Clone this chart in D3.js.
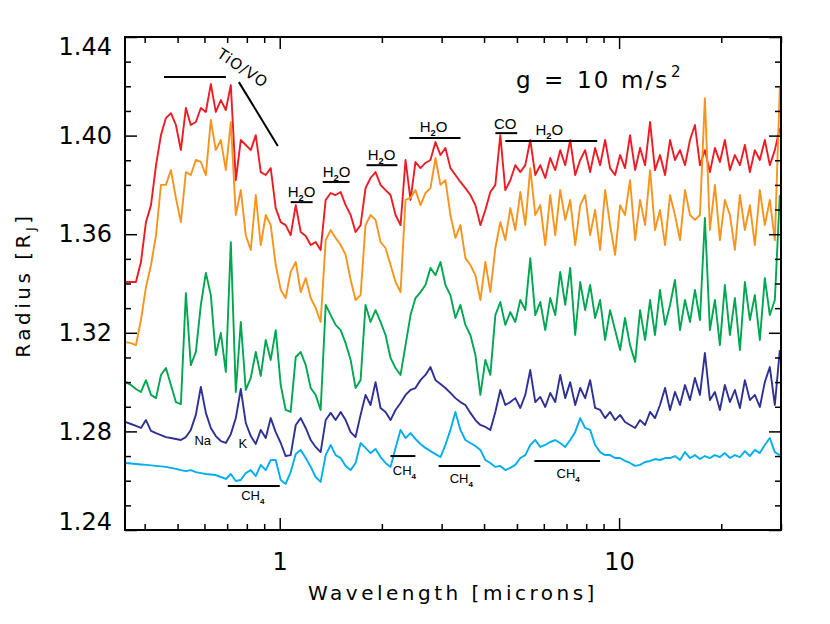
<!DOCTYPE html>
<html>
<head>
<meta charset="utf-8">
<script src="https://cdnjs.cloudflare.com/ajax/libs/d3/7.8.5/d3.min.js"></script>
<style>
  body { margin: 0; background: #fff; }
  svg { display: block; }
  .ax text { font-family: "DejaVu Sans", sans-serif; font-size: 24px; fill: #000; }
  .ax line { stroke: #000; stroke-width: 1.5px; }
  .title { font-family: "DejaVu Sans", sans-serif; font-size: 20px; letter-spacing: 3.5px; fill: #000; }
  .note { font-family: "Liberation Sans", Arial, sans-serif; fill: #000; }
</style>
</head>
<body>
<svg id="chart" width="830" height="624"></svg>
<script>
// wavelength grid (microns), shared by all five spectra
var wavelength = [
  0.352, 0.3645, 0.377, 0.390, 0.4035, 0.4175, 0.432, 0.4467, 0.462, 0.478,
  0.4944, 0.5114, 0.529, 0.547, 0.566, 0.5856, 0.6058, 0.6266, 0.648, 0.6706,
  0.6937, 0.7176, 0.7423, 0.7679, 0.7943, 0.8217, 0.85, 0.8793, 0.9095, 0.9408,
  0.9732, 1.0068, 1.041, 1.077, 1.115, 1.153, 1.193, 1.234, 1.276, 1.320,
  1.366, 1.413, 1.461, 1.512, 1.564, 1.618, 1.673, 1.731, 1.790, 1.852,
  1.916, 1.982, 2.050, 2.121, 2.194, 2.270, 2.348, 2.429, 2.512, 2.599,
  2.688, 2.781, 2.877, 2.976, 3.078, 3.184, 3.294, 3.407, 3.525, 3.646,
  3.772, 3.902, 4.036, 4.175, 4.319, 4.467, 4.621, 4.781, 4.945, 5.116,
  5.292, 5.474, 5.663, 5.858, 6.060, 6.268, 6.484, 6.708, 6.939, 7.178,
  7.425, 7.681, 7.943, 8.217, 8.500, 8.793, 9.096, 9.408, 9.732, 10.07,
  10.41, 10.77, 11.15, 11.53, 11.93, 12.34, 12.76, 13.20, 13.66, 14.13,
  14.61, 15.12, 15.64, 16.18, 16.73, 17.31, 17.90, 18.52, 19.16, 19.82,
  20.50, 21.21, 21.94, 22.70, 23.48, 24.29, 25.12, 25.99, 26.88, 27.81,
  28.77, 29.76
];

// radius (R_J) of each model
var radiusRed = [
  1.3406, 1.3406, 1.3406, 1.3487, 1.3649, 1.3718, 1.3880, 1.4002, 1.4071, 1.4091,
  1.4043, 1.3941, 1.4112, 1.4043, 1.4055, 1.4112, 1.4096, 1.4209, 1.4096, 1.4144,
  1.4104, 1.4205, 1.3819, 1.3982, 1.3962, 1.3941, 1.4002, 1.3852, 1.3840, 1.3868,
  1.3706, 1.3649, 1.3637, 1.3596, 1.3718, 1.3609, 1.3593, 1.3556, 1.3568, 1.3536,
  1.3739, 1.3767, 1.3759, 1.3771, 1.3718, 1.3678, 1.3609, 1.3637, 1.3787, 1.3828,
  1.3852, 1.3800, 1.3779, 1.3759, 1.3678, 1.3637, 1.3901, 1.3739, 1.3893, 1.3868,
  1.3889, 1.3901, 1.3974, 1.3921, 1.3950, 1.3868, 1.3840, 1.3812, 1.3787, 1.3759,
  1.3718, 1.3637, 1.3698, 1.3771, 1.3800, 1.4002, 1.3779, 1.3819, 1.3880, 1.3852,
  1.3880, 1.3982, 1.3840, 1.3880, 1.3828, 1.3909, 1.3860, 1.3941, 1.3880, 1.3982,
  1.3840, 1.3901, 1.3941, 1.3852, 1.3950, 1.3880, 1.3982, 1.3868, 1.3840, 1.3921,
  1.3868, 1.4002, 1.3860, 1.3950, 1.3880, 1.4055, 1.3860, 1.3921, 1.3840, 1.3982,
  1.3901, 1.3941, 1.3880, 1.3982, 1.4043, 1.3880, 1.3941, 1.3852, 1.3950, 1.3893,
  1.3982, 1.3860, 1.3921, 1.3880, 1.3962, 1.3852, 1.3941, 1.3901, 1.3982, 1.3880,
  1.3941, 1.4031
];
var radiusOrange = [
  1.3162, 1.3158, 1.3150, 1.3252, 1.3385, 1.3475, 1.3596, 1.3800, 1.3800, 1.3860,
  1.3747, 1.3649, 1.3852, 1.3840, 1.3901, 1.3893, 1.3840, 1.4063, 1.3941, 1.3982,
  1.3860, 1.4055, 1.3678, 1.3779, 1.3596, 1.3536, 1.3759, 1.3556, 1.3678, 1.3637,
  1.3475, 1.3374, 1.3341, 1.3447, 1.3487, 1.3365, 1.3422, 1.3341, 1.3301, 1.3244,
  1.3576, 1.3617, 1.3585, 1.3556, 1.3516, 1.3414, 1.3333, 1.3353, 1.3637, 1.3678,
  1.3658, 1.3568, 1.3544, 1.3475, 1.3406, 1.3365, 1.3739, 1.3747, 1.3779, 1.3718,
  1.3767, 1.3787, 1.3909, 1.3800, 1.3819, 1.3678, 1.3585, 1.3637, 1.3503, 1.3475,
  1.3434, 1.3333, 1.3487, 1.3365, 1.3544, 1.3649, 1.3576, 1.3706, 1.3617, 1.3771,
  1.3637, 1.3868, 1.3678, 1.3718, 1.3556, 1.3759, 1.3596, 1.3779, 1.3658, 1.3739,
  1.3556, 1.3718, 1.3759, 1.3596, 1.3698, 1.3536, 1.3779, 1.3637, 1.3516, 1.3718,
  1.3678, 1.3819, 1.3576, 1.3739, 1.3637, 1.3860, 1.3617, 1.3698, 1.3556, 1.3759,
  1.3678, 1.3576, 1.3779, 1.3678, 1.3658, 1.3678, 1.4152, 1.3617, 1.3800, 1.3576,
  1.3739, 1.3678, 1.3536, 1.3759, 1.3617, 1.3718, 1.3556, 1.3779, 1.3637, 1.3739,
  1.3576, 1.4193
];
var radiusGreen = [
  1.3000, 1.2988, 1.2972, 1.2960, 1.3008, 1.2948, 1.2935, 1.3029, 1.3057, 1.2988,
  1.2919, 1.2911, 1.3361, 1.3069, 1.3122, 1.3313, 1.3443, 1.3353, 1.3110, 1.3199,
  1.3041, 1.3568, 1.2960, 1.3244, 1.2968, 1.3017, 1.3122, 1.3025, 1.3171, 1.3090,
  1.3211, 1.2988, 1.2887, 1.2879, 1.3102, 1.3122, 1.3069, 1.2976, 1.2948, 1.2887,
  1.3313, 1.3272, 1.3232, 1.3211, 1.3158, 1.3090, 1.2976, 1.3008, 1.3313, 1.3244,
  1.3292, 1.3244, 1.3191, 1.3098, 1.3057, 1.3029, 1.3150, 1.3272, 1.3341, 1.3365,
  1.3394, 1.3463, 1.3434, 1.3487, 1.3394, 1.3353, 1.3260, 1.3313, 1.3232, 1.3191,
  1.3110, 1.2948, 1.3090, 1.3029, 1.3272, 1.3325, 1.3232, 1.3284, 1.3244, 1.3333,
  1.3292, 1.3503, 1.3272, 1.3325, 1.3211, 1.3341, 1.3272, 1.3447, 1.3313, 1.3463,
  1.3191, 1.3406, 1.3292, 1.3394, 1.3260, 1.3333, 1.3171, 1.3292, 1.3211, 1.3130,
  1.3260, 1.3150, 1.3082, 1.3292, 1.3171, 1.3333, 1.3191, 1.3374, 1.3232, 1.3313,
  1.3414, 1.3211, 1.3333, 1.3244, 1.3374, 1.3252, 1.3666, 1.3211, 1.3333, 1.3150,
  1.3394, 1.3191, 1.3341, 1.3130, 1.3406, 1.3252, 1.3353, 1.3171, 1.3422, 1.3272,
  1.3333, 1.3759
];
var radiusNavy = [
  1.2838, 1.2830, 1.2822, 1.2814, 1.2846, 1.2802, 1.2793, 1.2785, 1.2777, 1.2773,
  1.2769, 1.2765, 1.2777, 1.2806, 1.2867, 1.2980, 1.2875, 1.2814, 1.2781, 1.2761,
  1.2753, 1.2789, 1.2854, 1.2972, 1.2834, 1.2781, 1.2749, 1.2806, 1.2773, 1.2854,
  1.2797, 1.2753, 1.2700, 1.2704, 1.2826, 1.2854, 1.2814, 1.2765, 1.2737, 1.2716,
  1.2846, 1.2875, 1.2846, 1.2879, 1.2846, 1.2797, 1.2777, 1.2867, 1.2948, 1.2907,
  1.3000, 1.2895, 1.2879, 1.2846, 1.2887, 1.2915, 1.2948, 1.2968, 1.2976, 1.3008,
  1.3029, 1.3061, 1.3008, 1.2992, 1.2976, 1.2956, 1.2935, 1.2919, 1.2907, 1.2875,
  1.2846, 1.2826, 1.2818, 1.2806, 1.2879, 1.2968, 1.2907, 1.2919, 1.2935, 1.2895,
  1.2948, 1.3049, 1.2919, 1.2940, 1.2899, 1.2956, 1.2919, 1.3029, 1.2935, 1.3000,
  1.2907, 1.2976, 1.2935, 1.3008, 1.2895, 1.2887, 1.2854, 1.2879, 1.2846, 1.2867,
  1.2838, 1.2826, 1.2814, 1.2846, 1.2826, 1.2879, 1.2854, 1.2907, 1.2976, 1.2887,
  1.2960, 1.2907, 1.2988, 1.2927, 1.3017, 1.2948, 1.3118, 1.2927, 1.2960, 1.2887,
  1.2988, 1.2919, 1.2968, 1.2895, 1.3008, 1.2927, 1.2948, 1.2899, 1.3000, 1.3061,
  1.2907, 1.3130
];
var radiusCyan = [
  1.2672, 1.2670, 1.2668, 1.2666, 1.2664, 1.2662, 1.2660, 1.2658, 1.2656, 1.2652,
  1.2648, 1.2643, 1.2639, 1.2643, 1.2635, 1.2631, 1.2627, 1.2625, 1.2623, 1.2615,
  1.2607, 1.2627, 1.2599, 1.2603, 1.2631, 1.2643, 1.2619, 1.2664, 1.2643, 1.2684,
  1.2684, 1.2603, 1.2587, 1.2635, 1.2708, 1.2725, 1.2692, 1.2656, 1.2615, 1.2595,
  1.2704, 1.2745, 1.2704, 1.2692, 1.2660, 1.2643, 1.2672, 1.2753, 1.2733, 1.2712,
  1.2729, 1.2696, 1.2672, 1.2656, 1.2733, 1.2806, 1.2773, 1.2793, 1.2769, 1.2749,
  1.2733, 1.2720, 1.2708, 1.2696, 1.2745, 1.2806, 1.2879, 1.2806, 1.2765, 1.2753,
  1.2741, 1.2725, 1.2684, 1.2672, 1.2656, 1.2660, 1.2643, 1.2652, 1.2664, 1.2692,
  1.2704, 1.2745, 1.2765, 1.2737, 1.2745, 1.2757, 1.2765, 1.2753, 1.2737, 1.2765,
  1.2798, 1.2854, 1.2814, 1.2806, 1.2745, 1.2716, 1.2704, 1.2704, 1.2692, 1.2692,
  1.2680, 1.2672, 1.2660, 1.2664, 1.2676, 1.2680, 1.2688, 1.2684, 1.2692, 1.2692,
  1.2700, 1.2684, 1.2716, 1.2692, 1.2704, 1.2688, 1.2700, 1.2692, 1.2704, 1.2696,
  1.2712, 1.2692, 1.2704, 1.2696, 1.2720, 1.2700, 1.2725, 1.2712, 1.2745, 1.2773,
  1.2716, 1.2704
];

// tick values
var xMajorTicks = [1, 10];
var xMinorTicks = [0.4, 0.5, 0.6, 0.7, 0.8, 0.9, 2, 3, 4, 5, 6, 7, 8, 9, 20, 30];
var yMajorTicks = [1.24, 1.28, 1.32, 1.36, 1.40, 1.44];
var yMinorTicks = [1.25, 1.26, 1.27, 1.29, 1.30, 1.31, 1.33, 1.34, 1.35, 1.37, 1.38, 1.39, 1.41, 1.42, 1.43];

// absorption band markers: [from, to] in microns at a given radius
var bands = [
  {x0: 0.456, x1: 0.694, r: 1.4238},
  {x0: 1.077, x1: 1.250, r: 1.3730},
  {x0: 1.339, x1: 1.606, r: 1.3812},
  {x0: 1.802, x1: 2.222, r: 1.3880},
  {x0: 2.41,  x1: 3.41,  r: 1.3990},
  {x0: 4.32,  x1: 5.01,  r: 1.4010},
  {x0: 4.62,  x1: 8.62,  r: 1.3978},
  {x0: 0.703, x1: 1.00,  r: 1.2579},
  {x0: 2.12,  x1: 2.51,  r: 1.2700},
  {x0: 2.94,  x1: 3.90,  r: 1.2660},
  {x0: 5.63,  x1: 8.79,  r: 1.2680}
];
var bandLabels = [
  {main: "H", sub: "2", tail: "O", w: 1.16, r: 1.3750, size: 15},
  {main: "H", sub: "2", tail: "O", w: 1.47, r: 1.3832, size: 15},
  {main: "H", sub: "2", tail: "O", w: 1.995, r: 1.3901, size: 15},
  {main: "H", sub: "2", tail: "O", w: 2.84, r: 1.4014, size: 15},
  {main: "CO", sub: "", tail: "", w: 4.62, r: 1.4027, size: 15},
  {main: "H", sub: "2", tail: "O", w: 6.23, r: 1.4002, size: 15},
  {main: "CH", sub: "4", tail: "", w: 0.833, r: 1.2522, size: 13},
  {main: "CH", sub: "4", tail: "", w: 2.33, r: 1.2623, size: 13},
  {main: "CH", sub: "4", tail: "", w: 3.43, r: 1.2591, size: 13},
  {main: "CH", sub: "4", tail: "", w: 7.08, r: 1.2611, size: 13},
  {main: "Na", sub: "", tail: "", w: 0.593, r: 1.2745, size: 13},
  {main: "K", sub: "", tail: "", w: 0.778, r: 1.2733, size: 13}
];

var svg = d3.select("#chart");
svg.append("rect").attr("width", 830).attr("height", 624).attr("fill", "#fff");

var x = d3.scaleLog().domain([0.35, 30]).range([125, 781]);
var y = d3.scaleLinear().domain([1.24, 1.44]).range([530, 37]);

svg.append("clipPath").attr("id", "clip")
  .append("rect")
  .attr("x", 125).attr("y", 37)
  .attr("width", 656).attr("height", 493);

var series = [
  {values: radiusRed, color: "#ed1c24"},
  {values: radiusOrange, color: "#f7941d"},
  {values: radiusGreen, color: "#00a651"},
  {values: radiusNavy, color: "#2e3192"},
  {values: radiusCyan, color: "#00aeef"}
];

var line = d3.line()
  .x(function(d, i) { return x(wavelength[i]); })
  .y(function(d) { return y(d); });

svg.append("g")
  .attr("clip-path", "url(#clip)")
  .selectAll("path")
  .data(series)
  .enter()
  .append("path")
  .attr("d", function(d) { return line(d.values); })
  .attr("fill", "none")
  .attr("stroke", function(d) { return d.color; })
  .attr("stroke-width", 1.9)
  .attr("stroke-linejoin", "round");

// axes: ticks point inward on all four sides
function tickAxis(axis, pos, labels) {
  var g = svg.append("g").attr("class", "ax").attr("transform", pos).call(axis);
  g.select(".domain").remove();
  if (!labels) g.selectAll("text").remove();
  return g;
}
tickAxis(d3.axisBottom(x).tickValues(xMinorTicks).tickSize(-6), "translate(0,530)", false);
tickAxis(d3.axisBottom(x).tickValues(xMajorTicks).tickSize(-12).tickPadding(23).tickFormat(d3.format("d")), "translate(0,530)", true);
tickAxis(d3.axisTop(x).tickValues(xMinorTicks).tickSize(-6), "translate(0,37)", false);
tickAxis(d3.axisTop(x).tickValues(xMajorTicks).tickSize(-12), "translate(0,37)", false);

tickAxis(d3.axisLeft(y).tickValues(yMinorTicks).tickSize(-6), "translate(125,0)", false);
var yl = tickAxis(d3.axisLeft(y).tickValues(yMajorTicks).tickSize(-12).tickPadding(13).tickFormat(d3.format(".2f")), "translate(125,0)", true);
// end labels sit just inside the frame
yl.selectAll("text").attr("y", function(d) { return d === 1.44 ? 10 : (d === 1.24 ? -8 : 0); });
tickAxis(d3.axisRight(y).tickValues(yMinorTicks).tickSize(-6), "translate(781,0)", false);
tickAxis(d3.axisRight(y).tickValues(yMajorTicks).tickSize(-12), "translate(781,0)", false);

svg.append("rect")
  .attr("x", 125).attr("y", 37).attr("width", 656).attr("height", 493)
  .attr("fill", "none").attr("stroke", "#000").attr("stroke-width", 2);

// axis titles
svg.append("text").attr("class", "title")
  .attr("x", 453).attr("y", 600).attr("text-anchor", "middle")
  .text("Wavelength [microns]");

var yt = svg.append("text").attr("class", "title")
  .attr("transform", "translate(30,285) rotate(-90)")
  .attr("text-anchor", "middle");
yt.append("tspan").text("Radius [R");
yt.append("tspan").attr("dy", 5).style("font-size", "13px").text("J");
yt.append("tspan").attr("dy", -5).text("]");

// band markers and labels
svg.append("g").selectAll("line")
  .data(bands)
  .enter()
  .append("line")
  .attr("x1", function(d) { return x(d.x0); })
  .attr("x2", function(d) { return x(d.x1); })
  .attr("y1", function(d) { return y(d.r); })
  .attr("y2", function(d) { return y(d.r); })
  .attr("stroke", "#000").attr("stroke-width", 2);

svg.append("line")
  .attr("x1", x(0.758)).attr("y1", y(1.4217))
  .attr("x2", x(0.987)).attr("y2", y(1.3958))
  .attr("stroke", "#000").attr("stroke-width", 2);

bandLabels.forEach(function(b) {
  var t = svg.append("text").attr("class", "note")
    .attr("x", x(b.w)).attr("y", y(b.r))
    .attr("text-anchor", "middle")
    .attr("font-size", b.size);
  t.append("tspan").text(b.main);
  if (b.sub) {
    t.append("tspan").attr("dy", 4).attr("font-size", b.size * 0.62).attr("font-weight", "bold").text(b.sub);
    if (b.tail) t.append("tspan").attr("dy", -4).text(b.tail);
  }
});

svg.append("text").attr("class", "title")
  .attr("transform", "translate(" + x(0.778) + "," + y(1.4274) + ") rotate(34)")
  .attr("text-anchor", "middle")
  .attr("dy", "0.35em")
  .style("font-size", "15px").style("letter-spacing", "1px")
  .text("TiO/VO");

// surface gravity note
var g = svg.append("text").attr("class", "title")
  .attr("y", 88).style("font-size", "23px").style("letter-spacing", "2px");
g.append("tspan").attr("x", 516).text("g");
g.append("tspan").attr("x", 544).text("=");
g.append("tspan").attr("x", 577).text("10");
g.append("tspan").attr("x", 621).text("m/s");
g.append("tspan").attr("x", 671).attr("dy", -11).style("font-size", "15px").text("2");
</script>
</body>
</html>
